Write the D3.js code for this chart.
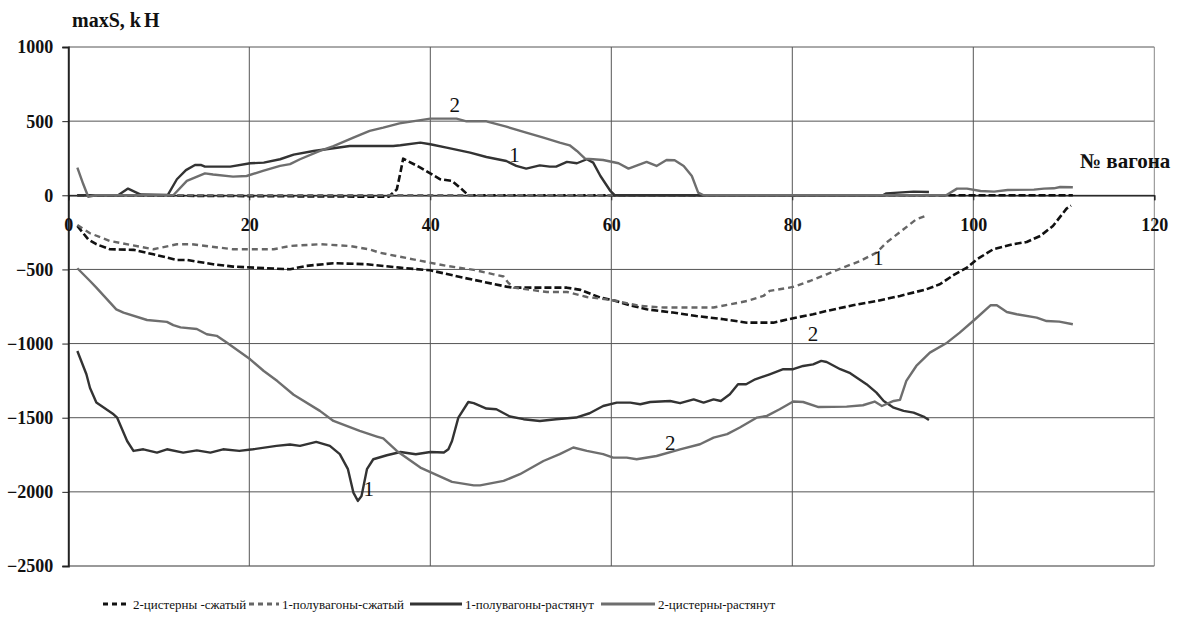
<!DOCTYPE html>
<html><head><meta charset="utf-8">
<script src="https://cdn.jsdelivr.net/npm/d3@7/dist/d3.min.js"></script>
<style>
html,body{margin:0;padding:0;background:#fff;}
svg{display:block;}
svg text{font-family:"Liberation Serif","Times New Roman","DejaVu Serif",serif !important;}
</style></head>
<body><svg id="chart" width="1177" height="630"></svg>
<script>
// ---------- DATA ----------
const xTicks = [0, 20, 40, 60, 80, 100, 120];
const yTicks = [1000, 500, 0, -500, -1000, -1500, -2000, -2500];
const legendLabels = ["2-цистерны -сжатый", "1-полувагоны-сжатый", "1-полувагоны-растянут", "2-цистерны-растянут"];

// 2-цистерны -сжатый (black dashed)
const tankCompUp = [[1,0],[35.4,-10],[36.3,40],[36.7,153],[37,247],[38.9,187],[41.1,108],[42.4,97],[43.5,40],[44.2,0],[111,0]];
const tankCompDn = [[1,-207],[2.2,-297],[3.1,-330],[4.6,-364],[7.2,-368],[9.4,-398],[12,-436],[13.1,-436],[16,-465],[18.2,-481],[20.5,-488],[24.5,-499],[26.3,-476],[29.3,-458],[33,-465],[36.6,-488],[40,-506],[43.6,-555],[48.4,-616],[49.2,-623],[55.1,-623],[56.6,-638],[58.8,-690],[60.2,-708],[62.1,-742],[63.9,-769],[66.8,-791],[69.4,-814],[72.4,-836],[75,-859],[77.9,-859],[80.1,-829],[82.3,-802],[83.8,-780],[86.7,-742],[89.3,-713],[91.9,-679],[94.8,-634],[96.3,-600],[97.8,-539],[99.3,-488],[100.4,-432],[102.2,-364],[104.4,-330],[105.9,-315],[107.4,-274],[108.8,-207],[110.3,-90],[110.8,-70]];

// 1-полувагоны-сжатый (gray dashed)
const gondCompUp = [[1,0],[95,0]];
const gondCompDn = [[1,-200],[2.4,-256],[4.6,-308],[9.4,-364],[12,-330],[13.6,-330],[18.2,-364],[22.7,-364],[24.5,-342],[27.8,-330],[31.1,-342],[33.2,-364],[34.4,-387],[38.1,-432],[41.8,-476],[44.8,-503],[47,-533],[48.1,-548],[48.6,-589],[49.2,-623],[52.9,-652],[55.1,-652],[57.3,-686],[60.2,-708],[63.2,-746],[65.8,-757],[71.3,-757],[75,-713],[76.8,-679],[77.5,-645],[78.6,-634],[80.1,-618],[81.95,-578],[83.8,-533],[85.6,-488],[87.5,-443],[89.3,-387],[90.4,-319],[92.3,-229],[93.7,-162],[94.7,-139]];

// 1-полувагоны-растянут (dark solid)
const gondTensUp = [[1,0],[5.5,0],[6.6,45],[7.3,25],[8,5],[11,3],[12,108],[13,170],[14,204],[14.7,204],[15.1,193],[17.9,193],[20.1,216],[21.6,220],[23.4,243],[24.9,274],[27.1,299],[31.1,332],[35.9,332],[36.7,337],[38.9,355],[40,344],[41.8,321],[44.4,288],[46.2,258],[48.4,231],[49.5,198],[50.6,180],[52.1,202],[53.2,193],[53.9,193],[55.1,225],[56.2,216],[57.3,243],[58,220],[58.8,130],[59.9,29],[60.4,0],[90,0],[90.4,13],[93.4,25],[95.1,22]];
const gondTensDn = [[1,-1050],[2,-1207],[2.4,-1300],[3.1,-1398],[5,-1477],[5.4,-1500],[6.5,-1657],[7.2,-1724],[8.3,-1713],[9.8,-1735],[10.9,-1713],[12.7,-1735],[14.2,-1720],[15.7,-1735],[17.1,-1713],[18.9,-1724],[20.4,-1713],[23,-1690],[24.5,-1681],[25.6,-1690],[27.4,-1663],[28.9,-1690],[30,-1746],[30.9,-1847],[31.5,-2005],[32,-2061],[32.4,-2028],[33,-1847],[33.7,-1780],[35.2,-1753],[36.7,-1731],[38.4,-1746],[40,-1731],[41.5,-1735],[42,-1713],[42.4,-1657],[43.1,-1499],[44.2,-1394],[44.8,-1402],[46.2,-1438],[47.3,-1443],[48.8,-1492],[50.3,-1510],[52.1,-1522],[53.9,-1510],[56.1,-1499],[57.6,-1470],[59.1,-1421],[60.6,-1398],[62.1,-1398],[63.2,-1409],[64.3,-1394],[66.5,-1387],[67.6,-1402],[69.1,-1376],[70.2,-1398],[71.3,-1376],[72.1,-1387],[73.1,-1342],[74,-1274],[74.9,-1274],[75.9,-1241],[77.5,-1207],[79,-1173],[80.1,-1173],[81.2,-1151],[82.3,-1140],[83.2,-1117],[83.8,-1124],[85.3,-1173],[86.4,-1200],[88.2,-1274],[89.3,-1331],[90.1,-1387],[91.2,-1432],[92.3,-1454],[93.4,-1466],[94.5,-1492],[95.1,-1515]];

// 2-цистерны-растянут (gray solid)
const tankTensUp = [[1,187],[1.66,74],[2.2,-10],[3,0],[11.6,0],[13.1,97],[15.1,148],[16,140],[18.2,126],[19.7,130],[21.5,164],[23.4,198],[24.5,210],[25.6,243],[27.8,299],[29.3,332],[31.5,389],[33.3,434],[34.8,456],[36.6,485],[40,517],[42.9,517],[44,499],[46.2,499],[48.4,463],[50.6,423],[52.5,389],[54.3,355],[55.4,337],[56.2,299],[57.1,247],[58,243],[59.1,238],[60.8,216],[61.9,180],[63.9,225],[65,198],[66.1,238],[67,236],[68,198],[68.9,130],[69.6,18],[70.2,0],[97,0],[98.2,45],[99.3,45],[100.8,29],[102.3,25],[103.8,36],[106.7,38],[107.8,45],[108.9,47],[109.6,56],[111,54]];
const tankTensDn = [[1,-492],[2.4,-578],[3.1,-623],[5.3,-769],[6.1,-791],[8.7,-841],[10.9,-854],[11.6,-876],[12.4,-891],[14.2,-902],[15.3,-937],[16.4,-948],[17.5,-993],[20.1,-1106],[21.6,-1185],[23.1,-1253],[24.9,-1345],[27.8,-1454],[29.3,-1522],[32.2,-1589],[34.1,-1627],[34.8,-1640],[36.3,-1724],[38.9,-1836],[42.4,-1933],[44.8,-1956],[45.5,-1956],[48.1,-1926],[49.9,-1881],[52.5,-1792],[54.3,-1746],[55.8,-1701],[57.3,-1724],[59.1,-1746],[60.2,-1769],[61.7,-1769],[62.8,-1780],[65,-1758],[67.6,-1713],[69.8,-1679],[71.3,-1634],[72.8,-1611],[74.2,-1566],[76.1,-1499],[77.2,-1488],[78.6,-1443],[80.1,-1391],[81.2,-1394],[82.9,-1428],[86,-1425],[87.8,-1416],[89.1,-1391],[89.9,-1421],[91.2,-1387],[91.9,-1380],[92.6,-1252],[93.7,-1151],[95.2,-1061],[97.1,-994],[98.5,-926],[100.2,-836],[101.9,-742],[102.6,-742],[103.7,-787],[104.8,-802],[107,-825],[108.1,-848],[109.5,-852],[111,-870]];

// curve annotations: [x, y, text]
const annotations = [[42.7, 560, "2"], [49.3, 225, "1"], [89.5, -470, "1"], [82.3, -980, "2"], [33.2, -2030, "1"], [66.5, -1720, "2"]];

// ---------- CHART ----------
const FONT = "'Liberation Serif', 'Times New Roman', 'DejaVu Serif', serif";
const svg = d3.select("#chart");
const L = 68.3, R = 1154.3, T = 47, B = 566;
const x = d3.scaleLinear().domain([0, 120]).range([L, R]);
const y = d3.scaleLinear().domain([-2500, 1000]).range([B, T]);

// grid
const g = svg.append("g");
g.selectAll(".hg").data(yTicks).join("line")
  .attr("x1", L).attr("x2", R).attr("y1", d => y(d)).attr("y2", d => y(d))
  .attr("stroke", d => d === -2500 ? "#999" : "#555").attr("stroke-width", d => d === -2500 ? 2 : 1);
g.selectAll(".vg").data(xTicks.filter(d => d > 0)).join("line")
  .attr("x1", d => x(d)).attr("x2", d => x(d)).attr("y1", T).attr("y2", B)
  .attr("stroke", d => d === 120 ? "#888" : "#555").attr("stroke-width", 1);

// y axis
const yAxis = d3.axisLeft(y).tickValues(yTicks).tickSize(6).tickPadding(9).tickFormat(d3.format("d"));
const ya = svg.append("g").attr("transform", `translate(${L},0)`).call(yAxis)
  .attr("font-family", FONT).attr("font-size", 18).attr("font-weight", "bold");
ya.select(".domain").attr("stroke", "#222").attr("stroke-width", 2);
ya.selectAll(".tick line").attr("stroke", "#222");
ya.selectAll("text").style("font-family", FONT).style("font-weight", "bold")
  .style("font-size", "18px").attr("fill", "#111").attr("dy", "0.33em");

// x axis at y=0
const xAxis = d3.axisBottom(x).tickValues(xTicks).tickSize(5).tickPadding(18).tickFormat(d3.format("d"));
const xa = svg.append("g").attr("transform", `translate(0,${y(0)})`).call(xAxis)
  .attr("font-family", FONT).attr("font-size", 18).attr("font-weight", "bold");
xa.select(".domain").attr("stroke", "#111").attr("stroke-width", 1.2);
xa.selectAll(".tick line").attr("stroke", "#222");
xa.selectAll("text").style("font-family", FONT).style("font-weight", "bold")
  .style("font-size", "18px").attr("fill", "#111");

// series
const line = d3.line().x(d => x(d[0])).y(d => y(d[1]));
const styles = [
  {stroke: "#111", width: 2.6, dash: "7,3"},
  {stroke: "#666", width: 2.4, dash: "6,4"},
  {stroke: "#333", width: 2.4, dash: null},
  {stroke: "#6e6e6e", width: 2.4, dash: null}
];
const seriesSets = [[tankCompUp, tankCompDn], [gondCompUp, gondCompDn], [gondTensUp, gondTensDn], [tankTensUp, tankTensDn]];
seriesSets.forEach((pair, i) => {
  pair.forEach(data => {
    svg.append("path").datum(data).attr("d", line).attr("fill", "none")
      .attr("stroke", styles[i].stroke).attr("stroke-width", styles[i].width)
      .attr("stroke-linejoin", "round")
      .attr("stroke-dasharray", styles[i].dash);
  });
});

// annotations
svg.selectAll(".ann").data(annotations).join("text")
  .attr("x", d => x(d[0])).attr("y", d => y(d[1]))
  .attr("text-anchor", "middle").style("font-family", FONT).style("font-size", "21px").attr("fill", "#111")
  .text(d => d[2]);

// axis titles
const t1 = svg.append("text").attr("x", 72).attr("y", 27)
  .style("font-family", FONT).style("font-weight", "bold").style("font-size", "20px").attr("fill", "#111");
t1.append("tspan").text("maxS, k");
t1.append("tspan").attr("dx", 3).text("H");
svg.append("text").attr("x", 1080).attr("y", 168)
  .style("font-family", FONT).style("font-weight", "bold").style("font-size", "21px").attr("fill", "#111").text("№ вагона");

// legend
const legX = [103, 249, 410, 601];
const legW = [27, 30, 52, 54];
const legY = 604;
const lg = svg.append("g");
legendLabels.forEach((lab, i) => {
  lg.append("line").attr("x1", legX[i]).attr("x2", legX[i] + legW[i]).attr("y1", legY).attr("y2", legY)
    .attr("stroke", styles[i].stroke).attr("stroke-width", 3).attr("stroke-dasharray", styles[i].dash ? "5,4" : null);
  lg.append("text").attr("x", legX[i] + legW[i] + 3).attr("y", legY + 5)
    .style("font-family", FONT).style("font-size", "13px").attr("fill", "#111").text(lab);
});
</script>
</body></html>
